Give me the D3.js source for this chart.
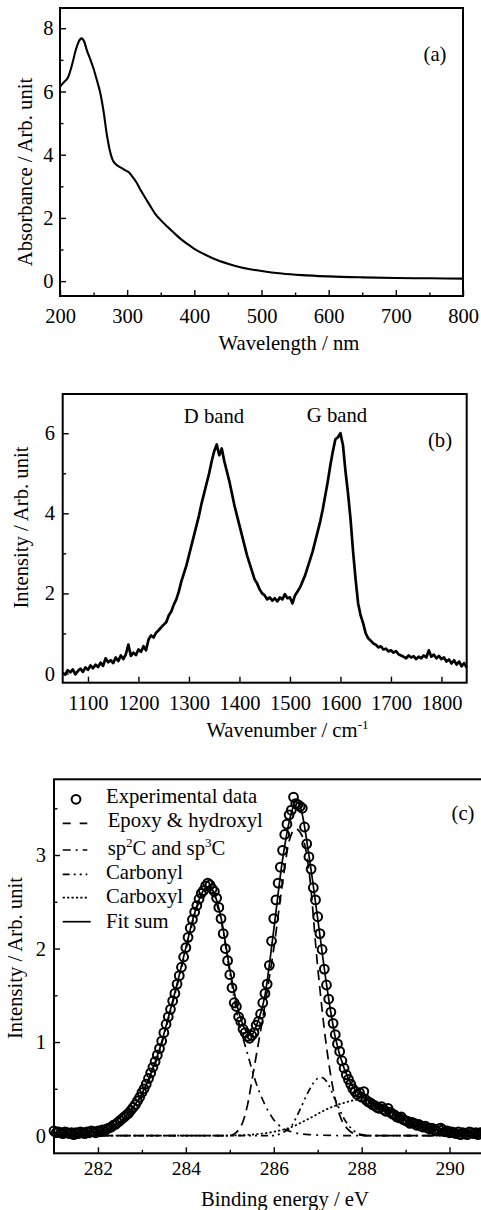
<!DOCTYPE html>
<html><head><meta charset="utf-8">
<script src="https://cdn.jsdelivr.net/npm/d3@7"></script>
<style>body{margin:0;background:#fff}svg{display:block}text{font-family:"Liberation Serif","Times New Roman",serif;fill:#000}</style>
</head><body>
<script>
// ---------- Panel (a): UV-vis absorbance ----------
const uvWavelength = [200,206,212,218,224,228,232,236,240,245,250,255,260,265,270,274,278,284,290,296,302,308,314,320,328,336,342,350,360,370,380,390,400,415,430,450,470,500,530,560,600,650,700,750,800];
const uvAbsorbance = [6.15,6.30,6.45,6.85,7.35,7.58,7.68,7.58,7.30,7.02,6.72,6.35,5.95,5.35,4.60,4.15,3.85,3.68,3.60,3.52,3.45,3.30,3.12,2.88,2.60,2.32,2.12,1.93,1.72,1.52,1.33,1.17,1.02,0.85,0.70,0.55,0.43,0.32,0.24,0.19,0.15,0.12,0.10,0.09,0.08];
const uvXTicks = [200,300,400,500,600,700,800];
const uvYTicks = [0,2,4,6,8];

// ---------- Panel (b): Raman ----------
const ramanStart = 1050, ramanStep = 5;
const ramanIntensity = [0.02,-0.03,0.08,0.03,0.10,-0.02,0.06,0.12,0.04,0.15,0.09,0.20,0.13,0.22,0.16,0.27,0.19,0.38,0.28,0.33,0.26,0.40,0.31,0.45,0.36,0.48,0.72,0.44,0.52,0.46,0.60,0.54,0.68,0.58,0.85,0.95,0.90,1.02,1.08,1.15,1.22,1.28,1.45,1.55,1.72,1.85,2.05,2.30,2.50,2.70,2.95,3.20,3.45,3.70,3.95,4.25,4.50,4.75,5.00,5.30,5.55,5.72,5.45,5.62,5.30,5.05,4.80,4.50,4.20,3.95,3.70,3.45,3.20,2.95,2.75,2.55,2.35,2.25,2.10,2.00,1.95,1.85,1.90,1.82,1.88,1.80,1.90,1.85,1.98,1.88,1.90,1.75,1.95,2.05,2.15,2.30,2.45,2.65,2.85,3.05,3.30,3.55,3.80,4.10,4.45,4.80,5.20,5.55,5.85,5.90,6.00,5.70,5.05,4.50,3.85,3.05,2.35,1.75,1.45,1.25,1.00,0.88,0.82,0.75,0.72,0.65,0.68,0.60,0.62,0.55,0.58,0.52,0.56,0.48,0.45,0.42,0.38,0.45,0.40,0.43,0.36,0.42,0.38,0.45,0.40,0.58,0.42,0.47,0.38,0.44,0.36,0.40,0.30,0.35,0.25,0.33,0.22,0.30,0.18,0.26,0.15];
const ramanXTicks = [1100,1200,1300,1400,1500,1600,1700,1800];
const ramanYTicks = [0,2,4,6];
const bandLabels = ["D band","G band"];

// ---------- Panel (c): XPS C1s ----------
const xpsStart = 281.0, xpsStep = 0.05;
const xpsExperimental = [0.05,0.03,0.04,0.03,0.02,0.04,0.03,0.02,0.03,0.01,0.03,0.02,0.04,0.03,0.02,0.04,0.03,0.05,0.04,0.03,0.05,0.04,0.06,0.05,0.07,0.08,0.09,0.11,0.12,0.14,0.16,0.18,0.20,0.22,0.24,0.27,0.30,0.33,0.37,0.41,0.46,0.50,0.55,0.61,0.67,0.73,0.79,0.86,0.93,1.01,1.10,1.19,1.27,1.35,1.44,1.52,1.62,1.71,1.80,1.91,2.01,2.12,2.22,2.31,2.39,2.46,2.53,2.59,2.62,2.67,2.70,2.68,2.64,2.61,2.54,2.44,2.32,2.16,2.00,1.87,1.72,1.58,1.42,1.38,1.27,1.22,1.14,1.10,1.06,1.04,1.07,1.10,1.18,1.22,1.30,1.42,1.52,1.62,1.82,2.08,2.32,2.52,2.70,2.87,3.05,3.22,3.33,3.43,3.48,3.62,3.55,3.54,3.52,3.50,3.30,3.12,2.98,2.85,2.65,2.52,2.34,2.16,1.99,1.78,1.61,1.46,1.32,1.20,1.08,0.98,0.90,0.80,0.72,0.65,0.60,0.55,0.50,0.47,0.44,0.46,0.41,0.47,0.38,0.36,0.35,0.33,0.32,0.30,0.29,0.31,0.28,0.26,0.29,0.25,0.23,0.22,0.20,0.19,0.20,0.17,0.16,0.15,0.13,0.14,0.13,0.11,0.12,0.10,0.09,0.10,0.08,0.07,0.08,0.06,0.05,0.07,0.08,0.06,0.04,0.05,0.03,0.04,0.03,0.02,0.04,0.01,0.03,0.02,0.01,0.04,0.03,0.02,0.03,0.01,0.03,0.02,0.03,0.02,0.01,0.02];
const fitEnergy = [281.0,281.5,282.0,282.2,282.4,282.6,282.8,283.0,283.2,283.4,283.6,283.8,284.0,284.2,284.4,284.5,284.6,284.8,285.0,285.2,285.4,285.5,285.6,285.8,286.0,286.2,286.4,286.5,286.6,286.8,287.0,287.2,287.4,287.6,287.8,288.0,288.2,288.4,288.6,288.8,289.0,289.2,289.4,289.6,289.8,290.0,290.5,291.0];
const fitSum =    [0.03,0.03,0.04,0.06,0.11,0.19,0.30,0.45,0.66,0.92,1.26,1.62,2.01,2.38,2.62,2.66,2.63,2.33,1.78,1.33,1.10,1.08,1.17,1.50,2.20,2.95,3.45,3.57,3.52,3.00,2.32,1.62,1.05,0.72,0.52,0.42,0.36,0.31,0.27,0.21,0.16,0.12,0.09,0.07,0.05,0.04,0.03,0.03];
const sp2Energy = [281.0,281.5,282.0,282.2,282.4,282.6,282.8,283.0,283.2,283.4,283.6,283.8,284.0,284.2,284.4,284.5,284.6,284.8,285.0,285.2,285.4,285.6,285.8,286.0,286.2,286.4,286.8,287.5,291.0];
const sp2Values = [0.0,0.005,0.02,0.04,0.08,0.16,0.27,0.43,0.64,0.90,1.24,1.60,1.98,2.36,2.60,2.64,2.60,2.30,1.75,1.22,0.88,0.56,0.33,0.17,0.08,0.04,0.01,0.0,0.0];
const epoxyEnergy = [281.0,285.0,285.2,285.3,285.4,285.5,285.6,285.7,285.8,286.0,286.2,286.35,286.5,286.65,286.8,287.0,287.2,287.35,287.5,287.7,287.9,288.1,291.0];
const epoxyValues = [0.0,0.0,0.06,0.15,0.32,0.58,0.85,1.12,1.40,2.00,2.70,3.15,3.28,3.20,2.84,1.80,0.95,0.50,0.22,0.06,0.01,0.0,0.0];
const carbonylEnergy = [281.0,286.0,286.2,286.4,286.6,286.8,287.0,287.1,287.2,287.4,287.6,287.8,288.0,288.2,291.0];
const carbonylValues = [0.0,0.0,0.03,0.10,0.28,0.48,0.61,0.62,0.58,0.38,0.18,0.06,0.01,0.0,0.0];
const carboxylEnergy = [281.0,285.0,285.5,286.0,286.4,286.8,287.2,287.6,287.9,288.2,288.6,289.0,289.5,290.0,290.5,291.0];
const carboxylValues = [0.0,0.0,0.01,0.04,0.09,0.18,0.28,0.35,0.38,0.36,0.28,0.18,0.08,0.03,0.01,0.0];
const xpsXTicks = [282,284,286,288,290];
const xpsYTicks = [0,1,2,3];
const legendNames = ["Experimental data","Epoxy & hydroxyl","sp2C and sp3C","Carbonyl","Carboxyl","Fit sum"];

const W = 481, H = 1210;
const FT = 20.7; // title / legend font size
const svg = d3.select("body").append("svg").attr("width", W).attr("height", H);
svg.append("rect").attr("width", W).attr("height", H).attr("fill", "#fff");

function axes(g, x, y, opt) {
  const [x0, x1] = x.range(), [y0, y1] = y.range();
  if (opt.xMinor) g.append("g").attr("transform", `translate(0,${y0})`)
    .call(d3.axisBottom(x).tickValues(opt.xMinor).tickSize(-3.5).tickFormat(""))
    .call(s => s.select(".domain").remove());
  if (opt.yMinor) g.append("g").attr("transform", `translate(${x0},0)`)
    .call(d3.axisLeft(y).tickValues(opt.yMinor).tickSize(-3.5).tickFormat(""))
    .call(s => s.select(".domain").remove());
  const gx = g.append("g").attr("transform", `translate(0,${y0})`)
    .call(d3.axisBottom(x).tickValues(opt.xTicks).tickSize(-6).tickPadding(opt.xPad).tickFormat(d3.format("d")));
  gx.select(".domain").remove();
  gx.selectAll("text").attr("font-size", opt.xFont).attr("font-family", "Liberation Serif, serif").attr("fill", "#000");
  const gy = g.append("g").attr("transform", `translate(${x0},0)`)
    .call(d3.axisLeft(y).tickValues(opt.yTicks).tickSize(-6).tickPadding(opt.yPad).tickFormat(d3.format("d")));
  gy.select(".domain").remove();
  gy.selectAll("text").attr("font-size", 20.5).attr("font-family", "Liberation Serif, serif").attr("fill", "#000");
  g.selectAll(".tick line").attr("stroke", "#000").attr("stroke-width", 1.4);
  g.append("rect").attr("x", x0).attr("y", y1).attr("width", x1 - x0).attr("height", y0 - y1)
    .attr("fill", "none").attr("stroke", "#000").attr("stroke-width", 2);
}

// ----- Panel a -----
{
  const x = d3.scaleLinear().domain([200, 800]).range([60, 463]);
  const y = d3.scaleLinear().domain([-0.47, 8.64]).range([296, 8]);
  const g = svg.append("g");
  const pts = uvWavelength.map((w, i) => [w, uvAbsorbance[i]]);
  g.append("path").datum(pts).attr("fill", "none").attr("stroke", "#000").attr("stroke-width", 2.1)
    .attr("d", d3.line().x(d => x(d[0])).y(d => y(d[1])).curve(d3.curveMonotoneX));
  axes(g, x, y, {xTicks: uvXTicks, xMinor: [250,350,450,550,650,750], yTicks: uvYTicks, yMinor: [1,3,5,7], xPad: 12.3, yPad: 6.5, xFont: 20.5});
  g.append("text").attr("x", 289).attr("y", 350).attr("text-anchor", "middle").attr("font-size", FT).text("Wavelength / nm");
  g.append("text").attr("transform", "translate(32,172) rotate(-90)").attr("text-anchor", "middle").attr("font-size", FT).text("Absorbance / Arb. unit");
  g.append("text").attr("x", 435).attr("y", 61).attr("text-anchor", "middle").attr("font-size", FT).text("(a)");
}

// ----- Panel b -----
{
  const x = d3.scaleLinear().domain([1050, 1850]).range([62.7, 466.7]);
  const y = d3.scaleLinear().domain([-0.23, 6.98]).range([682.7, 394]);
  const g = svg.append("g");
  const pts = ramanIntensity.map((v, i) => [ramanStart + i * ramanStep, v]);
  g.append("path").datum(pts).attr("fill", "none").attr("stroke", "#000").attr("stroke-width", 2.7).attr("stroke-linejoin", "round")
    .attr("d", d3.line().x(d => x(d[0])).y(d => y(d[1])));
  axes(g, x, y, {xTicks: ramanXTicks, yTicks: ramanYTicks, yMinor: [1,3,5], xPad: 13.1, yPad: 7.7, xFont: 20.5});
  const t = g.append("text").attr("x", 287.5).attr("y", 736.7).attr("text-anchor", "middle").attr("font-size", FT);
  t.append("tspan").text("Wavenumber / cm");
  t.append("tspan").attr("dy", -8).attr("font-size", 13).text("-1");
  g.append("text").attr("transform", "translate(28,527.5) rotate(-90)").attr("text-anchor", "middle").attr("font-size", FT).text("Intensity / Arb. unit");
  g.append("text").attr("x", 440).attr("y", 447).attr("text-anchor", "middle").attr("font-size", FT).text("(b)");
  g.append("text").attr("x", 214).attr("y", 423).attr("text-anchor", "middle").attr("font-size", FT).text(bandLabels[0]);
  g.append("text").attr("x", 337).attr("y", 421.7).attr("text-anchor", "middle").attr("font-size", FT).text(bandLabels[1]);
}

// ----- Panel c -----
{
  const x = d3.scaleLinear().domain([281, 291]).range([54, 493.5]);
  const y = d3.scaleLinear().domain([-0.19, 3.81]).range([1153.3, 779.3]);
  const g = svg.append("g");
  const line = d3.line().x(d => x(d[0])).y(d => y(d[1])).curve(d3.curveMonotoneX);
  const comps = [
    {e: epoxyEnergy, v: epoxyValues, dash: "10,6"},
    {e: sp2Energy, v: sp2Values, dash: "8,5,2,5"},
    {e: carbonylEnergy, v: carbonylValues, dash: "7,4,2,4,2,4"},
    {e: carboxylEnergy, v: carboxylValues, dash: "2.2,2.2"},
    {e: fitEnergy, v: fitSum, dash: null}
  ];
  comps.forEach(c => {
    g.append("path").datum(c.e.map((e, i) => [e, c.v[i]])).attr("fill", "none").attr("stroke", "#000")
      .attr("stroke-width", 1.7).attr("stroke-dasharray", c.dash).attr("d", line);
  });
  const pts = xpsExperimental.map((v, i) => [xpsStart + i * xpsStep, v]);
  g.selectAll("circle.exp").data(pts).join("circle").attr("class", "exp")
    .attr("cx", d => x(d[0])).attr("cy", d => y(d[1])).attr("r", 4.4)
    .attr("fill", "none").attr("stroke", "#000").attr("stroke-width", 2);
  axes(g, x, y, {xTicks: xpsXTicks, xMinor: [283,285,287,289], yTicks: xpsYTicks, yMinor: [0.5,1.5,2.5,3.5], xPad: 8.2, yPad: 8, xFont: 19.5});
  g.append("text").attr("x", 285).attr("y", 1206).attr("text-anchor", "middle").attr("font-size", FT).text("Binding energy / eV");
  g.append("text").attr("transform", "translate(21.7,958) rotate(-90)").attr("text-anchor", "middle").attr("font-size", FT).text("Intensity / Arb. unit");
  g.append("text").attr("x", 463).attr("y", 820).attr("text-anchor", "middle").attr("font-size", FT).text("(c)");
  // legend
  const rowsY = [799.3, 823.3, 850, 874.3, 897.7, 921.7];
  const textY = [803.3, 827.3, 855, 879.3, 903.3, 928.3];
  const textX = [106, 107.7, 107.7, 106, 106, 106];
  const dashes = [null, "8,9", "8,5,2,5", "7,4,2,4,2,4", "2.2,2.2", null];
  const lg = g.append("g");
  lg.append("circle").attr("cx", 76).attr("cy", rowsY[0]).attr("r", 4.4).attr("fill", "none").attr("stroke", "#000").attr("stroke-width", 2);
  for (let i = 1; i < 6; i++) {
    lg.append("line").attr("x1", 62.7).attr("x2", i === 5 ? 90.7 : 87.3).attr("y1", rowsY[i]).attr("y2", rowsY[i])
      .attr("stroke", "#000").attr("stroke-width", 1.7).attr("stroke-dasharray", dashes[i]);
  }
  legendNames.forEach((name, i) => {
    const t = lg.append("text").attr("x", textX[i]).attr("y", textY[i]).attr("font-size", FT);
    if (name.startsWith("sp2C")) {
      t.append("tspan").text("sp");
      t.append("tspan").attr("dy", -8).attr("font-size", 13).text("2");
      t.append("tspan").attr("dy", 8).text("C and sp");
      t.append("tspan").attr("dy", -8).attr("font-size", 13).text("3");
      t.append("tspan").attr("dy", 8).text("C");
    } else t.text(name);
  });
}
</script>
</body></html>
